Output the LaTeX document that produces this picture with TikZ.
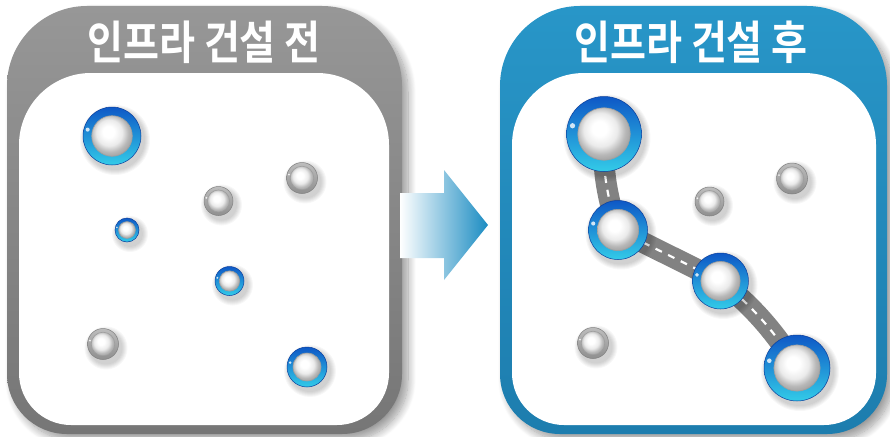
\documentclass[tikz,border=0pt]{standalone}
\usepackage{fontspec}
\newfontfamily\krfont{Noto Sans CJK KR Bold}
\usetikzlibrary{shadows.blur,calc}

\definecolor{grayTop}{HTML}{979797}
\definecolor{grayBot}{HTML}{767676}
\definecolor{blueTop}{HTML}{2896C8}
\definecolor{blueBot}{HTML}{1D7DAE}
\definecolor{ringTop}{HTML}{0E58C6}
\definecolor{ringMid}{HTML}{1689DA}
\definecolor{ringBot}{HTML}{33CBE8}
\definecolor{ringEdge}{HTML}{0A3F9E}
\definecolor{roadgray}{HTML}{828282}
\definecolor{arrowblue}{HTML}{1B8CC2}

% glossy white sphere used inside every marker
\pgfdeclareradialshading{sphere}{\pgfpoint{-5bp}{6bp}}{%
  color(0bp)=(white); color(7bp)=(white); color(16bp)=(black!8);
  color(23bp)=(black!28); color(28bp)=(black!36); color(50bp)=(black!36)}

\pgfdeclarelayer{panels}
\pgfdeclarelayer{roads}
\pgfsetlayers{panels,roads,main}

\newcommand\titlefont{\krfont\fontsize{46}{46}\selectfont}

\tikzset{
  bluering/.style={circle, inner sep=0pt, outer sep=0pt, top color=ringTop,
    middle color=ringMid, bottom color=ringBot, draw=ringEdge, line width=0.5pt},
  grayring/.style={circle, inner sep=0pt, outer sep=0pt, top color=black!26,
    bottom color=black!44, draw=black!50, line width=0.5pt},
  road/.style={draw=roadgray, line width=21pt,
    postaction={draw=white, line width=2.2pt, dash pattern=on 7pt off 7pt}},
  title/.style={text=white, font=\titlefont, inner sep=0pt},
  panelshadow/.style={blur shadow={shadow xshift=6pt, shadow yshift=-6pt,
    shadow blur steps=12, shadow blur radius=8pt, shadow opacity=40}},
}

% #1 name, #2 x, #3 y, #4 radius, #5 ring style, #6 sphere ratio
\newcommand\glassdot[6]{%
  \foreach \k in {1,...,6}{\fill[black,opacity=0.03] (#2+3,#3+4) circle ({#4+\k});}
  \node[#5, minimum size=2*#4pt] (#1) at (#2,#3) {};
  \shade[shading=sphere] (#1.center) circle ({#6*#4});
  \draw[black!38, line width=0.6pt] (#1.center) circle ({#6*#4});
  \fill[white, opacity=0.8] ($(#1.center)+({-0.84*#4},{-0.22*#4})$) circle ({0.07*#4});
}
\newcommand\bluedot[4]{\glassdot{#1}{#2}{#3}{#4}{bluering}{0.70}}
\newcommand\graydot[4]{\glassdot{#1}{#2}{#3}{#4}{grayring}{0.76}}

\begin{document}
\begin{tikzpicture}[x=1pt, y=-1pt]
\useasboundingbox (0,0) rectangle (890,436);

\begin{pgfonlayer}{panels}
  % left frame and its white board
  \path[panelshadow, top color=grayTop, bottom color=grayBot]
    (7,220) [rounded corners=80pt] |- (204,6) -| (402,220)
    [rounded corners=60pt] |- (204,434) -| (7,220) -- cycle;
  \fill[white] (19,250) [rounded corners=72pt] |- (204,73) -| (389,250)
    [rounded corners=52pt] |- (204,425) -| (19,250) -- cycle;
  % right frame and its white board
  \path[panelshadow, top color=blueTop, bottom color=blueBot]
    (500,220) [rounded corners=80pt] |- (694,6) -| (887,220)
    [rounded corners=60pt] |- (694,434) -| (500,220) -- cycle;
  \fill[white] (512,250) [rounded corners=72pt] |- (694,73) -| (876,250)
    [rounded corners=52pt] |- (694,425) -| (512,250) -- cycle;
\end{pgfonlayer}

% titles
\node[title] (tl) at (204,42) {\scalebox{0.85}[1]{인프라 건설 전}};
\node[title] (tr) at (691,42) {\scalebox{0.85}[1]{인프라 건설 후}};

% arrow between the frames
\shade[left color=white, right color=arrowblue]
  (400,193) -- (444,193) -- (444,170) -- (488,225) -- (444,280)
  -- (444,258) -- (400,258) -- cycle;

% scattered points, left
\bluedot{a1}{112}{136}{29}
\graydot{a2}{302}{178}{15.5}
\graydot{a3}{218.5}{201}{14.5}
\bluedot{a4}{127}{230}{12}
\bluedot{a5}{229.5}{281}{14.5}
\graydot{a6}{103}{344}{15.5}
\bluedot{a7}{307}{367}{20}

% linked points, right
\bluedot{b1}{604}{134}{37.5}
\bluedot{b2}{618}{230}{29.5}
\bluedot{b3}{720.5}{281}{28}
\bluedot{b4}{797}{368}{33}
\graydot{b5}{709.5}{201.5}{14.5}
\graydot{b6}{792}{178.5}{15.5}
\graydot{b7}{593}{343}{15.5}

\begin{pgfonlayer}{roads}
  \draw[road] (b1.center) .. controls +(-2,38) and +(-10,-30) .. (b2.center);
  \draw[road] (b2.center) -- (b3.center);
  \draw[road] (b3.center) .. controls +(31,24) and +(-20,-34) .. (b4.center);
\end{pgfonlayer}
\end{tikzpicture}
\end{document}
